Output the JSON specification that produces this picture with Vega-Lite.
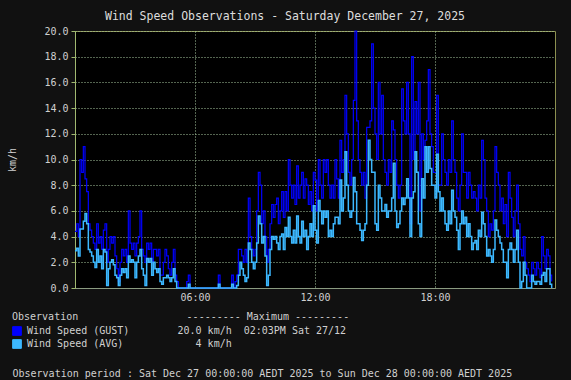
{
"$schema": "https://vega.github.io/schema/vega-lite/v6.json",
"width": 480, "height": 257,
"autosize": {"type": "none"},
"padding": {"left": 75, "top": 31, "right": 16, "bottom": 92},
"background": "#111111",
"title": {"text": "Wind Speed Observations - Saturday December 27, 2025", "font": "DejaVu Sans Mono", "fontSize": 11.5, "fontWeight": "normal", "color": "#dddddd", "anchor": "middle", "dx": -30, "offset": 4},
"config": {"view": {"fill": "#000000", "stroke": "#8c9050", "strokeWidth": 1}, "font": "DejaVu Sans Mono",
  "axisY": {"values": [0, 2, 4, 6, 8, 10, 12, 14, 16, 18, 20], "format": ".1f", "labelOverlap": false,
         "grid": true, "gridColor": "#a8c8a0", "gridDash": [1, 2], "gridWidth": 1,
         "domainColor": "#a0b870", "tickColor": "#a0b870", "tickSize": 4, "labelPadding": 3,
         "labelColor": "#d0d0d0", "labelFont": "DejaVu Sans Mono", "labelFontSize": 10,
         "titleX": -63, "titleY": 128.5, "titleAngle": -90, "titleAlign": "center", "titleBaseline": "middle",
         "titleFont": "DejaVu Sans Mono", "titleFontSize": 10, "titleFontWeight": "normal", "titleColor": "#d0d0d0"}},
"data": {"values": [
{"t":0,"g":4.4,"a":2.9},{"t":5,"g":5,"a":3.1},{"t":10,"g":4,"a":2.5},{"t":15,"g":10,"a":4.6},{"t":20,"g":9,"a":4.6},{"t":25,"g":11,"a":5.2},{"t":30,"g":8.5,"a":5.8},{"t":35,"g":7.5,"a":5},{"t":40,"g":5,"a":3},{"t":45,"g":4.5,"a":2.8},{"t":50,"g":4,"a":2.5},{"t":55,"g":3.5,"a":2},
{"t":60,"g":3,"a":1.6},{"t":65,"g":5,"a":3},{"t":70,"g":3.5,"a":2},{"t":75,"g":4,"a":2.5},{"t":80,"g":3,"a":1.5},{"t":85,"g":4.5,"a":3},{"t":90,"g":5,"a":2.8},{"t":95,"g":2,"a":0.2},{"t":100,"g":3,"a":1.5},{"t":105,"g":4,"a":2},{"t":110,"g":3.5,"a":2.2},{"t":115,"g":4,"a":1.8},
{"t":120,"g":2.5,"a":1},{"t":125,"g":1.5,"a":0.8},{"t":130,"g":0.5,"a":0.2},{"t":135,"g":2,"a":1},{"t":140,"g":3,"a":1.5},{"t":145,"g":2.5,"a":1.2},{"t":150,"g":3,"a":1.5},{"t":155,"g":2,"a":0.8},{"t":160,"g":6,"a":2.5},{"t":165,"g":3.5,"a":2},{"t":170,"g":3,"a":2.2},{"t":175,"g":3.5,"a":2},
{"t":180,"g":2.5,"a":0.8},{"t":185,"g":3.5,"a":2},{"t":190,"g":4,"a":2.5},{"t":195,"g":6,"a":3},{"t":200,"g":3,"a":1.5},{"t":205,"g":2.5,"a":1},{"t":210,"g":2,"a":0.2},{"t":215,"g":3.5,"a":2.3},{"t":220,"g":3,"a":2},{"t":225,"g":3.5,"a":2.3},{"t":230,"g":2,"a":1},{"t":235,"g":3,"a":2},
{"t":240,"g":3,"a":1.5},{"t":245,"g":2.5,"a":1.2},{"t":250,"g":3,"a":1.5},{"t":255,"g":1,"a":0.5},{"t":260,"g":1,"a":0.3},{"t":265,"g":2,"a":0.8},{"t":270,"g":3,"a":0.8},{"t":275,"g":2.5,"a":1},{"t":280,"g":1.5,"a":0.8},{"t":285,"g":1,"a":0.5},{"t":290,"g":2,"a":0.8},{"t":295,"g":3,"a":1.5},
{"t":300,"g":1,"a":0.5},{"t":305,"g":0.5,"a":0},{"t":310,"g":0,"a":0},{"t":315,"g":0,"a":0},{"t":320,"g":0,"a":0},{"t":325,"g":0,"a":0},{"t":330,"g":0,"a":0},{"t":335,"g":0.5,"a":0},{"t":340,"g":1,"a":0.3},{"t":345,"g":0,"a":0},{"t":350,"g":0,"a":0},{"t":355,"g":0,"a":0},
{"t":360,"g":0,"a":0},{"t":365,"g":0,"a":0},{"t":370,"g":0,"a":0},{"t":375,"g":0,"a":0},{"t":380,"g":0,"a":0},{"t":385,"g":0,"a":0},{"t":390,"g":0,"a":0},{"t":395,"g":0,"a":0},{"t":400,"g":0,"a":0},{"t":405,"g":0,"a":0},{"t":410,"g":0,"a":0},{"t":415,"g":0,"a":0},
{"t":420,"g":0,"a":0},{"t":425,"g":0,"a":0},{"t":430,"g":1,"a":0.3},{"t":435,"g":0,"a":0},{"t":440,"g":0,"a":0},{"t":445,"g":0,"a":0},{"t":450,"g":0,"a":0},{"t":455,"g":0,"a":0},{"t":460,"g":0,"a":0},{"t":465,"g":0,"a":0},{"t":470,"g":1,"a":0.3},{"t":475,"g":0,"a":0},
{"t":480,"g":0.5,"a":0},{"t":485,"g":1,"a":0.2},{"t":490,"g":3,"a":1},{"t":495,"g":3,"a":2},{"t":500,"g":2.5,"a":1.5},{"t":505,"g":2,"a":1},{"t":510,"g":3,"a":0.5},{"t":515,"g":2,"a":0.8},{"t":520,"g":7,"a":3.5},{"t":525,"g":4,"a":3},{"t":530,"g":3,"a":2},{"t":535,"g":2.5,"a":1.5},
{"t":540,"g":3,"a":2},{"t":545,"g":6,"a":3.5},{"t":550,"g":9,"a":5.6},{"t":555,"g":8,"a":5},{"t":560,"g":5,"a":3.5},{"t":565,"g":6,"a":4},{"t":570,"g":4,"a":2.5},{"t":575,"g":2,"a":0.2},{"t":580,"g":3,"a":1},{"t":585,"g":5,"a":3},{"t":590,"g":6.5,"a":4},{"t":595,"g":5.5,"a":3.8},
{"t":600,"g":6.5,"a":4},{"t":605,"g":7,"a":3.5},{"t":610,"g":5,"a":3},{"t":615,"g":6,"a":4},{"t":620,"g":7.5,"a":4.2},{"t":625,"g":5.5,"a":3},{"t":630,"g":7.5,"a":4.7},{"t":635,"g":6,"a":4},{"t":640,"g":10,"a":5.5},{"t":645,"g":8,"a":4},{"t":650,"g":7,"a":3.5},{"t":655,"g":8,"a":4.5},
{"t":660,"g":6.5,"a":3.5},{"t":665,"g":9.5,"a":5.6},{"t":670,"g":7,"a":4},{"t":675,"g":8,"a":3.5},{"t":680,"g":9,"a":5.2},{"t":685,"g":7,"a":4},{"t":690,"g":8.5,"a":4.5},{"t":695,"g":8,"a":3},{"t":700,"g":6.5,"a":4},{"t":705,"g":7.5,"a":5},{"t":710,"g":6,"a":4},{"t":715,"g":9,"a":6.4},
{"t":720,"g":8.4,"a":4.5},{"t":725,"g":6,"a":3.5},{"t":730,"g":10,"a":6.8},{"t":735,"g":8,"a":6},{"t":740,"g":7,"a":5},{"t":745,"g":10,"a":6},{"t":750,"g":9,"a":5.5},{"t":755,"g":10,"a":6},{"t":760,"g":8,"a":4},{"t":765,"g":7,"a":4.5},{"t":770,"g":8,"a":4},{"t":775,"g":7,"a":5},
{"t":780,"g":10,"a":5.5},{"t":785,"g":8.5,"a":5.5},{"t":790,"g":7,"a":5},{"t":795,"g":11.5,"a":8.4},{"t":800,"g":9,"a":6},{"t":805,"g":10,"a":7},{"t":810,"g":15,"a":10.6},{"t":815,"g":12,"a":8},{"t":820,"g":9,"a":6},{"t":825,"g":8,"a":5.5},{"t":830,"g":10,"a":6},{"t":835,"g":14.6,"a":8.6},
{"t":840,"g":20,"a":7.5},{"t":845,"g":13,"a":5},{"t":850,"g":10,"a":5},{"t":855,"g":9,"a":4.5},{"t":860,"g":8,"a":3.7},{"t":865,"g":9,"a":4.5},{"t":870,"g":7,"a":5},{"t":875,"g":12.5,"a":8},{"t":880,"g":12.5,"a":11.5},{"t":885,"g":13,"a":10},{"t":890,"g":19,"a":9},{"t":895,"g":14,"a":9},
{"t":900,"g":12,"a":5},{"t":905,"g":10,"a":4.5},{"t":910,"g":16,"a":8},{"t":915,"g":12,"a":7},{"t":920,"g":15,"a":6},{"t":925,"g":10,"a":6},{"t":930,"g":9,"a":6.5},{"t":935,"g":8,"a":5.5},{"t":940,"g":10,"a":6},{"t":945,"g":9,"a":6},{"t":950,"g":13,"a":7},{"t":955,"g":12.3,"a":9.7},
{"t":960,"g":10,"a":6},{"t":965,"g":8,"a":4.7},{"t":970,"g":7,"a":5},{"t":975,"g":8,"a":6},{"t":980,"g":15.5,"a":7},{"t":985,"g":13,"a":6.5},{"t":990,"g":12,"a":7},{"t":995,"g":16,"a":8.5},{"t":1000,"g":12,"a":7},{"t":1005,"g":5,"a":4},{"t":1010,"g":18,"a":7},{"t":1015,"g":10,"a":7.5},
{"t":1020,"g":14.5,"a":10.6},{"t":1025,"g":12,"a":9},{"t":1030,"g":16,"a":5},{"t":1035,"g":6,"a":4},{"t":1040,"g":12,"a":8.5},{"t":1045,"g":10,"a":7},{"t":1050,"g":11.5,"a":11},{"t":1055,"g":13,"a":9},{"t":1060,"g":17,"a":11},{"t":1065,"g":12,"a":9.3},{"t":1070,"g":11,"a":8},{"t":1075,"g":9,"a":8},
{"t":1080,"g":9,"a":7},{"t":1085,"g":15,"a":10.4},{"t":1090,"g":8,"a":7.5},{"t":1095,"g":8,"a":6},{"t":1100,"g":12,"a":7},{"t":1105,"g":10,"a":6},{"t":1110,"g":9,"a":5},{"t":1115,"g":8,"a":4.5},{"t":1120,"g":10,"a":6},{"t":1125,"g":9,"a":5},{"t":1130,"g":13,"a":7.6},{"t":1135,"g":10,"a":6},
{"t":1140,"g":9,"a":5.5},{"t":1145,"g":7,"a":4.5},{"t":1150,"g":6,"a":3},{"t":1155,"g":8,"a":5},{"t":1160,"g":12,"a":6},{"t":1165,"g":9,"a":5},{"t":1170,"g":9,"a":5.5},{"t":1175,"g":7,"a":4},{"t":1180,"g":9,"a":5},{"t":1185,"g":8,"a":4},{"t":1190,"g":7,"a":3},{"t":1195,"g":7.5,"a":3.5},
{"t":1200,"g":7,"a":3.7},{"t":1205,"g":6,"a":3},{"t":1210,"g":8,"a":4.5},{"t":1215,"g":7,"a":4},{"t":1220,"g":11.5,"a":5.9},{"t":1225,"g":10,"a":5},{"t":1230,"g":7,"a":4},{"t":1235,"g":6,"a":2.5},{"t":1240,"g":4,"a":3},{"t":1245,"g":5,"a":2.5},{"t":1250,"g":4.5,"a":2},{"t":1255,"g":6,"a":3},
{"t":1260,"g":11,"a":5.3},{"t":1265,"g":9,"a":4.5},{"t":1270,"g":8,"a":4},{"t":1275,"g":6,"a":3.5},{"t":1280,"g":7,"a":3},{"t":1285,"g":5,"a":2},{"t":1290,"g":6.5,"a":2},{"t":1295,"g":4,"a":0.8},{"t":1300,"g":9,"a":3},{"t":1305,"g":7,"a":3.5},{"t":1310,"g":5.5,"a":3},{"t":1315,"g":4,"a":2},
{"t":1320,"g":6,"a":3},{"t":1325,"g":8,"a":4.5},{"t":1330,"g":5,"a":2},{"t":1335,"g":3,"a":0},{"t":1340,"g":2.5,"a":0.5},{"t":1345,"g":4,"a":2},{"t":1350,"g":2,"a":1},{"t":1355,"g":1.5,"a":0},{"t":1360,"g":1,"a":0},{"t":1365,"g":0.5,"a":0},{"t":1370,"g":2,"a":1},{"t":1375,"g":1.5,"a":0.5},
{"t":1380,"g":1,"a":0.3},{"t":1385,"g":2,"a":0.5},{"t":1390,"g":1.5,"a":0.5},{"t":1395,"g":0.8,"a":0.3},{"t":1400,"g":4,"a":1},{"t":1405,"g":2.5,"a":1.2},{"t":1410,"g":1.5,"a":0.5},{"t":1415,"g":3,"a":1.5},{"t":1420,"g":2.5,"a":1.5},{"t":1425,"g":1,"a":0.3},{"t":1430,"g":0.5,"a":0}
]},
"encoding": {
  "x": {"field": "t", "type": "quantitative", "scale": {"domain": [0, 1440], "nice": false, "zero": false},
    "axis": {"values": [360, 720, 1080], "labelExpr": "datum.value == 360 ? '06:00' : datum.value == 720 ? '12:00' : '18:00'",
      "grid": true, "gridColor": "#a8c8a0", "gridDash": [1, 2], "gridWidth": 1,
      "domainColor": "#8a9a80", "ticks": false, "labelColor": "#d0d0d0", "labelFont": "DejaVu Sans Mono", "labelFontSize": 10, "labelPadding": 4,
      "title": "Observation period : Sat Dec 27 00:00:00 AEDT 2025 to Sun Dec 28 00:00:00 AEDT 2025",
      "titleX": -63, "titleY": 85, "titleAlign": "left", "titleAnchor": "start", "titleBaseline": "middle",
      "titleFont": "DejaVu Sans Mono", "titleFontSize": 10, "titleFontWeight": "normal", "titleColor": "#d0d0d0"}}
},
"layer": [
  {"mark": {"type": "line", "interpolate": "step-after", "strokeWidth": 1.2},
   "encoding": {
     "y": {"field": "g", "type": "quantitative", "title": "km/h", "scale": {"domain": [0, 20], "nice": false},
       "axis": {"values": [0, 2, 4, 6, 8, 10, 12, 14, 16, 18, 20], "format": ".1f", "labelOverlap": false, "title": "km/h"}},
     "color": {"datum": "GUST", "type": "nominal",
       "scale": {"domain": ["GUST", "AVG"], "range": ["#0000ff", "#3cb8ff"]},
       "legend": {"orient": "none", "legendX": -63, "legendY": 281, "direction": "vertical",
         "title": "Observation\u00a0\u00a0\u00a0\u00a0\u00a0\u00a0\u00a0\u00a0\u00a0\u00a0\u00a0\u00a0\u00a0\u00a0\u00a0\u00a0\u00a0\u00a0--------- Maximum ---------",
         "labelExpr": "datum.label == 'GUST' ? 'Wind Speed (GUST)\u00a0\u00a0\u00a0\u00a0\u00a0\u00a0\u00a0\u00a020.0 km/h\u00a0\u00a002:03PM Sat 27/12' : 'Wind Speed (AVG)\u00a0\u00a0\u00a0\u00a0\u00a0\u00a0\u00a0\u00a0\u00a0\u00a0\u00a0\u00a04 km/h'",
         "symbolType": "square", "symbolSize": 76, "symbolStrokeWidth": 1,
         "labelFont": "DejaVu Sans Mono", "labelFontSize": 10, "labelColor": "#d0d0d0", "labelLimit": 500, "labelOffset": 5,
         "titleFont": "DejaVu Sans Mono", "titleFontSize": 10, "titleFontWeight": "normal", "titleColor": "#d0d0d0", "titleLimit": 500, "titlePadding": 4,
         "rowPadding": -1, "padding": 0,
         "encode": {"symbols": {"update": {"fill": {"scale": "color", "field": "value"}, "fillOpacity": {"value": 1}, "stroke": {"value": "#a0a0a0"}, "strokeWidth": {"value": 1}}}}}}
   }},
  {"mark": {"type": "line", "interpolate": "step-after", "strokeWidth": 1.5},
   "encoding": {
     "y": {"field": "a", "type": "quantitative", "title": "km/h",
       "axis": {"values": [0, 2, 4, 6, 8, 10, 12, 14, 16, 18, 20], "format": ".1f", "labelOverlap": false, "title": "km/h"}},
     "color": {"datum": "AVG", "type": "nominal"}
   }}
]
}
